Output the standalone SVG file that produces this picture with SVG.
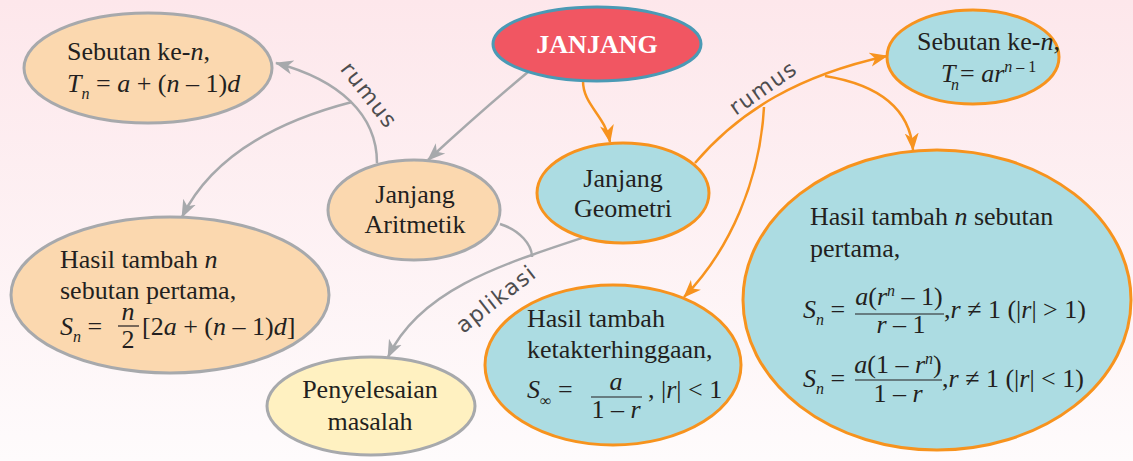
<svg xmlns="http://www.w3.org/2000/svg" width="1133" height="461" viewBox="0 0 1133 461">
<defs>
<linearGradient id="bg" x1="0" y1="0" x2="0" y2="1">
<stop offset="0" stop-color="#fde7eb"/>
<stop offset="1" stop-color="#fefbfc"/>
</linearGradient>
<marker id="ag" markerWidth="20" markerHeight="16" refX="17" refY="8" orient="auto" markerUnits="userSpaceOnUse"><path d="M0,1 L18,8 L0,15 L5,8 Z" fill="#a7a9ac"/></marker>
<marker id="ao" markerWidth="20" markerHeight="16" refX="17" refY="8" orient="auto" markerUnits="userSpaceOnUse"><path d="M0,1 L18,8 L0,15 L5,8 Z" fill="#f7931e"/></marker>
<style>
.t{font-family:"Liberation Serif","Times New Roman",serif;font-size:26px;fill:#231f20}
.i{font-style:italic}
.sub{font-size:16px}
.sup{font-size:16px}
.pe{fill:#fbd8af;stroke:#a7a9ac;stroke-width:3}
.bl{fill:#acdce2;stroke:#f7931e;stroke-width:3}
.ye{fill:#fff1c1;stroke:#a7a9ac;stroke-width:3}
.cg{fill:none;stroke:#a7a9ac;stroke-width:2.5}
.co{fill:none;stroke:#f7931e;stroke-width:2.5}
.lab{font-family:"DejaVu Sans",sans-serif;font-size:22px;fill:#4d4d4f;letter-spacing:1.5px}
.bar{stroke:#231f20;stroke-width:1.2}
</style>
</defs>
<rect width="1133" height="461" fill="url(#bg)"/>

<g id="connectors">
<path class="cg" d="M528,72 Q480,112 428,160" marker-end="url(#ag)"/>
<path class="cg" d="M377,163 C377,115 340,80 276,63" marker-end="url(#ag)"/>
<path class="cg" d="M352,102 C290,118 215,150 182,217" marker-end="url(#ag)"/>
<path class="cg" d="M500,224 C520,230 532,245 532,257"/>
<path class="cg" d="M585,237 C500,265 420,290 388,357" marker-end="url(#ag)"/>
<path class="co" d="M583,81 C583,105 605,115 610,142" marker-end="url(#ao)"/>
<path class="co" d="M695,163 C740,110 800,75 887,56" marker-end="url(#ao)"/>
<path class="co" d="M825,76 C880,85 910,110 913,150" marker-end="url(#ao)"/>
<path class="co" d="M764,107 C760,180 730,250 684,297" marker-end="url(#ao)"/>
<text class="lab" transform="translate(368,96) rotate(52)" text-anchor="middle" y="6">rumus</text>
<text class="lab" transform="translate(764,89) rotate(-35)" text-anchor="middle" y="6">rumus</text>
<text class="lab" transform="translate(497,300) rotate(-38)" text-anchor="middle" y="6">aplikasi</text>
</g>

<g id="janjang">
<ellipse cx="597" cy="44" rx="104" ry="37" fill="#f15662" stroke="#4a9ab5" stroke-width="3"/>
<text class="t" x="597" y="53" text-anchor="middle" font-weight="bold" style="fill:#ffffff">JANJANG</text>
</g>

<g id="sebutan-aritmetik">
<ellipse class="pe" cx="148" cy="68" rx="124" ry="55"/>
<text class="t" x="67" y="60">Sebutan ke-<tspan class="i">n</tspan>,</text>
<text class="t" x="67" y="92"><tspan class="i">T</tspan><tspan class="i sub" dy="7">n</tspan><tspan dy="-7"> = </tspan><tspan class="i">a</tspan> + (<tspan class="i">n</tspan> – 1)<tspan class="i">d</tspan></text>
</g>

<g id="janjang-aritmetik">
<ellipse class="pe" cx="414" cy="210" rx="86" ry="50"/>
<text class="t" x="415" y="203" text-anchor="middle">Janjang</text>
<text class="t" x="415" y="233" text-anchor="middle">Aritmetik</text>
</g>

<g id="hasil-aritmetik">
<ellipse class="pe" cx="170" cy="295" rx="159" ry="78"/>
<text class="t" x="60" y="268">Hasil tambah <tspan class="i">n</tspan></text>
<text class="t" x="60" y="299">sebutan pertama,</text>
<text class="t" x="60" y="335"><tspan class="i">S</tspan><tspan class="i sub" dy="7">n</tspan><tspan dy="-7"> = </tspan></text>
<text class="t i" x="128" y="320" text-anchor="middle">n</text>
<line class="bar" x1="118" y1="326" x2="139" y2="326"/>
<text class="t" x="128" y="348" text-anchor="middle">2</text>
<text class="t" x="142" y="335">[2<tspan class="i">a</tspan> + (<tspan class="i">n</tspan> – 1)<tspan class="i">d</tspan>]</text>
</g>

<g id="penyelesaian">
<ellipse class="ye" cx="371" cy="406" rx="104" ry="49"/>
<text class="t" x="370" y="398" text-anchor="middle">Penyelesaian</text>
<text class="t" x="370" y="430" text-anchor="middle">masalah</text>
</g>

<g id="janjang-geometri">
<ellipse class="bl" cx="623" cy="193" rx="86" ry="50"/>
<text class="t" x="623" y="187" text-anchor="middle">Janjang</text>
<text class="t" x="623" y="217" text-anchor="middle">Geometri</text>
</g>

<g id="sebutan-geometri">
<ellipse class="bl" cx="973" cy="57" rx="86" ry="47"/>
<text class="t" x="917" y="50">Sebutan ke-<tspan class="i">n</tspan>,</text>
<text class="t" x="941" y="82"><tspan class="i">T</tspan><tspan class="i sub" x="951" dy="8">n</tspan><tspan x="960" dy="-8">= </tspan><tspan class="i">ar</tspan><tspan class="i sup" dy="-10">n</tspan><tspan class="sup"> – 1</tspan></text>
</g>

<g id="ketakterhinggaan">
<ellipse class="bl" cx="613" cy="365" rx="128" ry="80"/>
<text class="t" x="527" y="327">Hasil tambah</text>
<text class="t" x="527" y="358">ketakterhinggaan,</text>
<text class="t" x="527" y="398"><tspan class="i">S</tspan><tspan class="sub" dy="8">∞</tspan><tspan dy="-8"> = </tspan></text>
<text class="t i" x="616" y="390" text-anchor="middle">a</text>
<line class="bar" x1="591" y1="397" x2="642" y2="397"/>
<text class="t" x="616" y="418" text-anchor="middle">1 – <tspan class="i">r</tspan></text>
<text class="t" x="648" y="398">, |<tspan class="i">r</tspan>| &lt; 1</text>
</g>

<g id="hasil-geometri">
<ellipse class="bl" cx="937" cy="300" rx="194" ry="150"/>
<text class="t" x="810" y="225">Hasil tambah <tspan class="i">n</tspan> sebutan</text>
<text class="t" x="810" y="257">pertama,</text>
<text class="t" x="803" y="318"><tspan class="i">S</tspan><tspan class="i sub" dy="7">n</tspan><tspan dy="-7"> = </tspan></text>
<text class="t" x="899" y="305" text-anchor="middle"><tspan class="i">a</tspan>(<tspan class="i">r</tspan><tspan class="i sup" dy="-9">n</tspan><tspan dy="9"> – 1)</tspan></text>
<line class="bar" x1="855" y1="314" x2="944" y2="314"/>
<text class="t" x="901" y="333" text-anchor="middle"><tspan class="i">r</tspan> – 1</text>
<text class="t" x="944" y="318">,<tspan class="i">r</tspan> ≠ 1 (|<tspan class="i">r</tspan>| &gt; 1)</text>
<text class="t" x="803" y="387"><tspan class="i">S</tspan><tspan class="i sub" dy="7">n</tspan><tspan dy="-7"> = </tspan></text>
<text class="t" x="898" y="373" text-anchor="middle"><tspan class="i">a</tspan>(1 – <tspan class="i">r</tspan><tspan class="i sup" dy="-9">n</tspan><tspan dy="9">)</tspan></text>
<line class="bar" x1="855" y1="380" x2="942" y2="380"/>
<text class="t" x="898" y="402" text-anchor="middle">1 – <tspan class="i">r</tspan></text>
<text class="t" x="942" y="387">,<tspan class="i">r</tspan> ≠ 1 (|<tspan class="i">r</tspan>| &lt; 1)</text>
</g>
</svg>
